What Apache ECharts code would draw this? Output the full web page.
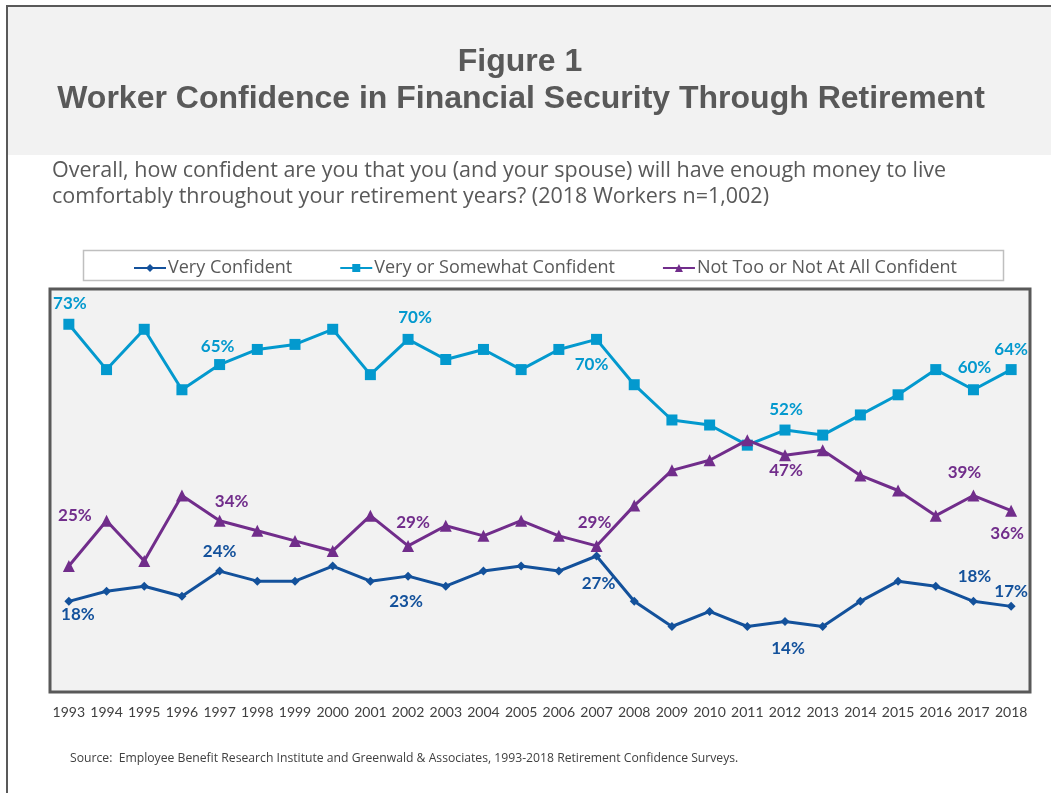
<!DOCTYPE html>
<html>
<head>
<meta charset="utf-8">
<script src="https://cdn.jsdelivr.net/npm/echarts@6/dist/echarts.min.js"></script>
<style>
html,body{margin:0;padding:0;background:#fff;}
#chart{width:1051px;height:793px;}
</style>
</head>
<body>
<div id="chart"></div>
<script>
// ---- data ----
var years = ['1993','1994','1995','1996','1997','1998','1999','2000','2001','2002','2003','2004','2005','2006','2007','2008','2009','2010','2011','2012','2013','2014','2015','2016','2017','2018'];
var veryConfident = [18,20,21,19,24,22,22,25,22,23,21,24,25,24,27,18,13,16,13,14,13,18,22,21,18,17];
var verySomewhatConfident = [73,64,72,60,65,68,69,72,63,70,66,68,64,68,70,61,54,53,49,52,51,55,59,64,60,64];
var notConfident = [25,34,26,39,34,32,30,28,35,29,33,31,34,31,29,37,44,46,50,47,48,43,40,35,39,36];
var seriesNames = ['Very Confident','Very or Somewhat Confident','Not Too or Not At All Confident'];

// ---- label placement (index -> offset of label centre from point) ----
var labelPlacement = [
  {0:[9,13],4:[0,-20],9:[-2,25],14:[2,28],19:[3,27],24:[1,-25],25:[0,-15]},
  {0:[1,-21],4:[-2,-18],9:[7,-22],14:[-5,25],19:[1,-21],24:[1,-22],25:[0,-20]},
  {0:[6,-51],4:[12,-19],9:[5,-23],14:[-2,-23],19:[1,15],24:[-9,-23],25:[-4,23]}
];
var colors = ['#13519B','#0399CE','#712D8B'];
var symbols = ['diamond','rect','triangle'];
var symbolSizes = [9,11,12];
var FONT = 'Lato, "Open Sans", sans-serif';
var FONT2 = '"Open Sans", Lato, sans-serif';
var TFONT = '"Liberation Sans", Arial, sans-serif';

function buildData(vals, placement, color){
  return vals.map(function(v,i){
    var d = {value:v};
    if (placement[i]) {
      d.label = {
        show:true, position:'inside', offset:placement[i],
        formatter: v + '%', color: color, fontFamily: FONT,
        fontWeight:'bold', fontSize:17, align:'center', verticalAlign:'middle'
      };
    }
    return d;
  });
}

var allVals = [veryConfident, verySomewhatConfident, notConfident];
var series = allVals.map(function(vals, k){
  return {
    name: seriesNames[k], type:'line', data: buildData(vals, labelPlacement[k], colors[k]),
    symbol: symbols[k], symbolSize: symbolSizes[k], showAllSymbol:true,
    lineStyle:{color:colors[k], width:3}, itemStyle:{color:colors[k]},
    label:{show:false}, z: 3 + k, animation:false
  };
});

var chart = echarts.init(document.getElementById('chart'), null, {renderer:'canvas'});
chart.setOption({
  animation:false,
  backgroundColor:'#ffffff',
  graphic:[
    {type:'rect', shape:{x:7, y:7, width:1044, height:148}, style:{fill:'#F2F2F2'}, z:-10},
    {type:'line', shape:{x1:7, y1:6, x2:1051, y2:6}, style:{stroke:'#595959', lineWidth:2}, z:-5},
    {type:'line', shape:{x1:7, y1:5, x2:7, y2:793}, style:{stroke:'#595959', lineWidth:2}, z:-5},
    {type:'rect', shape:{x:83.5, y:250.5, width:920, height:30}, style:{fill:'#ffffff', stroke:'#BFBFBF', lineWidth:1.5}, z:-5},
    {type:'text', x:520, y:46, style:{text:'Figure 1', fill:'#595959', font:'bold 32px ' + TFONT, textAlign:'center'}},
    {type:'text', x:521, y:83, style:{text:'Worker Confidence in Financial Security Through Retirement', fill:'#595959', font:'bold 32px ' + TFONT, textAlign:'center'}},
    {type:'text', x:52, y:160, style:{text:'Overall, how confident are you that you (and your spouse) will have enough money to live', fill:'#595959', font:'21.5px ' + FONT2}},
    {type:'text', x:52, y:186, style:{text:'comfortably throughout your retirement years? (2018 Workers n=1,002)', fill:'#595959', font:'21.5px ' + FONT2}},
    {type:'text', x:70, y:753, style:{text:'Source:  Employee Benefit Research Institute and Greenwald & Associates, 1993-2018 Retirement Confidence Surveys.', fill:'#404040', font:'12.2px ' + FONT2}}
  ],
  legend:{
    data: seriesNames, top:254, left:128, itemGap:47, itemWidth:32, itemHeight:10,
    textStyle:{color:'#595959', fontSize:18, fontFamily:FONT2, padding:[0,0,0,-3]}
  },
  grid:{left:50, right:21, top:289, bottom:101, show:true, backgroundColor:'#F2F2F2', borderColor:'#595959', borderWidth:3, containLabel:false},
  xAxis:{
    type:'category', data: years, boundaryGap:true,
    axisLine:{show:false}, axisTick:{show:false}, splitLine:{show:false},
    axisLabel:{color:'#404040', fontSize:14, fontFamily:FONT, margin:13, interval:0}
  },
  yAxis:{type:'value', min:0, max:80, show:false, splitLine:{show:false}},
  series: series
});
</script>
</body>
</html>
